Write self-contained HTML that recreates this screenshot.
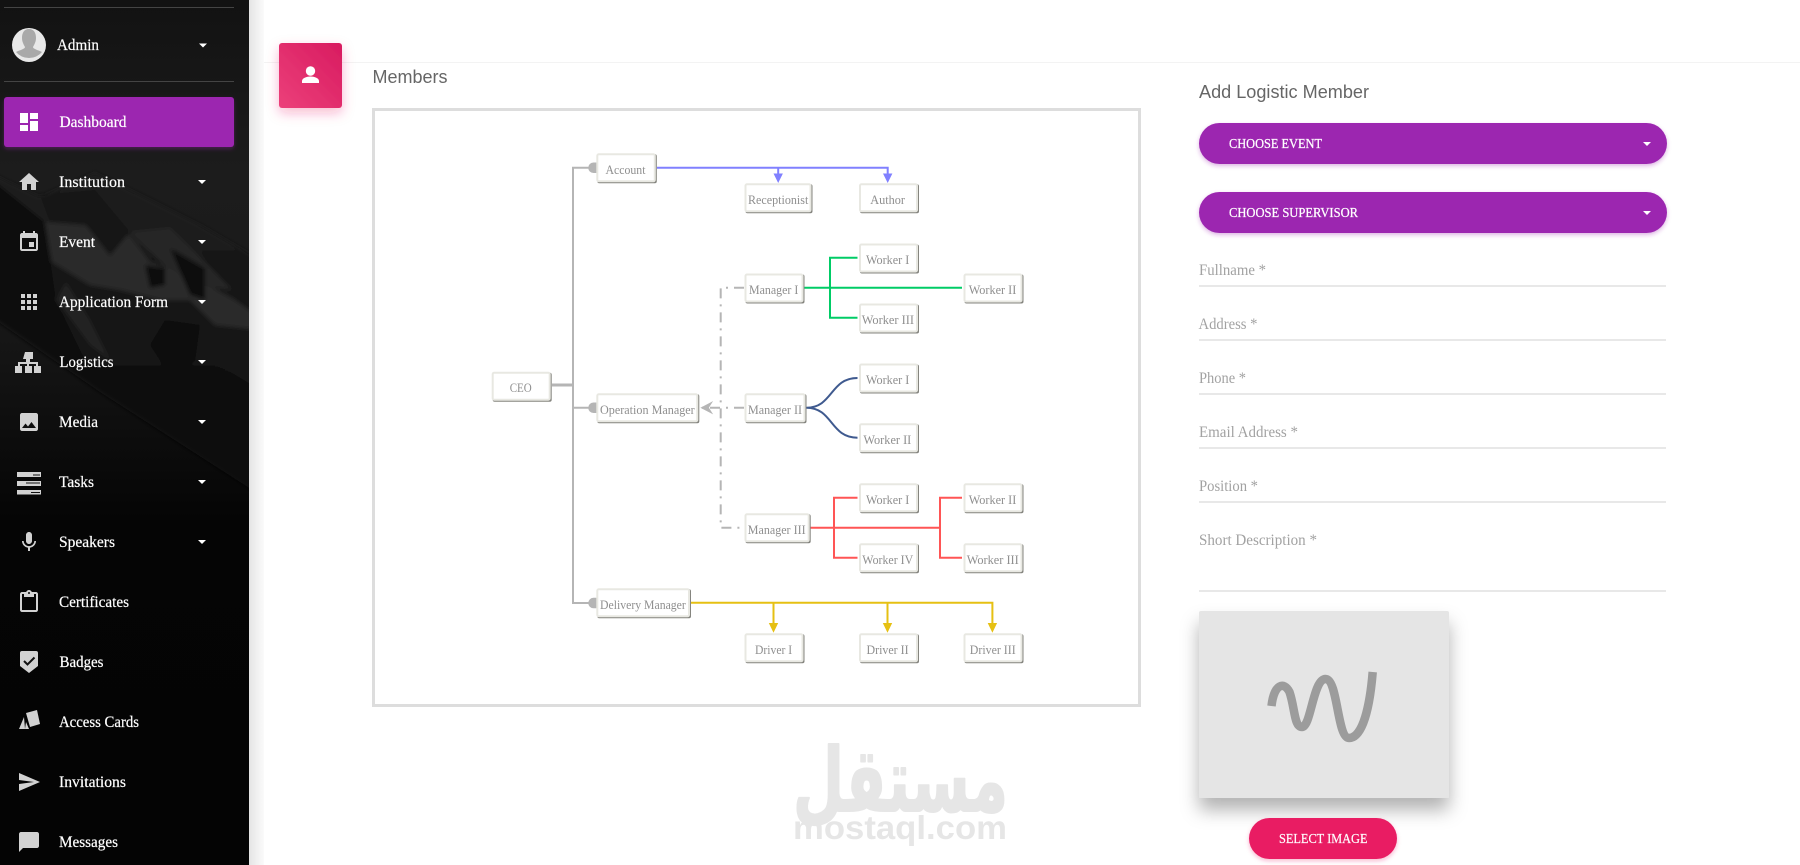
<!DOCTYPE html>
<html><head><meta charset="utf-8"><title>Members</title>
<style>
html,body{margin:0;padding:0;background:#fff;width:1800px;height:865px;overflow:hidden}
svg{display:block}
.s{font-family:"Liberation Serif",serif}
.m text{font-family:"Liberation Serif",serif;font-size:15.500px;fill:#fff;stroke:#fff;stroke-width:.2px}
.n text{font-family:"Liberation Serif",serif;font-size:12.500px;fill:#8f8f8f}
.f text{font-family:"Liberation Serif",serif;font-size:15.500px;fill:#a2a2a2}
.h{font-family:"Liberation Sans",sans-serif;font-size:18px;fill:#666}
.i path,.i rect{fill:#d2d2d2}
</style></head><body>
<svg width="1800" height="865" viewBox="0 0 1800 865" xmlns="http://www.w3.org/2000/svg">
<defs>
<linearGradient id="sb" x1="0" y1="0" x2="0" y2="1"><stop offset="0" stop-color="#121212"/><stop offset=".2" stop-color="#1c1c1c"/><stop offset=".34" stop-color="#1a1a1a"/><stop offset=".6" stop-color="#050505"/><stop offset="1" stop-color="#040404"/></linearGradient>
<linearGradient id="mt" x1="0" y1="0" x2="0" y2="1"><stop offset="0" stop-color="#1f1f1f"/><stop offset=".5" stop-color="#141414"/><stop offset="1" stop-color="#080808"/></linearGradient>
<linearGradient id="pk" x1="0" y1="1" x2="1" y2="0"><stop offset="0" stop-color="#ec407a"/><stop offset="1" stop-color="#d81b60"/></linearGradient>
<linearGradient id="sh" x1="0" y1="0" x2="1" y2="0"><stop offset="0" stop-color="#e4e4e4"/><stop offset="1" stop-color="#fbfbfb"/></linearGradient>
<clipPath id="sc"><rect x="0" y="0" width="249" height="865"/></clipPath>
<filter id="blur2" x="-10%" y="-10%" width="120%" height="120%"><feGaussianBlur stdDeviation="2.200"/></filter>
<filter id="s1" x="-30%" y="-30%" width="160%" height="170%"><feDropShadow dx="0" dy="12" stdDeviation="9" flood-color="#000" flood-opacity=".3"/></filter>
<filter id="s2" x="-10%" y="-30%" width="120%" height="180%"><feDropShadow dx="0" dy="2" stdDeviation="2" flood-color="#9c27b0" flood-opacity=".35"/></filter>
<filter id="s3" x="-40%" y="-40%" width="180%" height="190%"><feDropShadow dx="0" dy="5" stdDeviation="6" flood-color="#e91e63" flood-opacity=".3"/></filter>
<filter id="s4" x="-20%" y="-30%" width="140%" height="180%"><feDropShadow dx="0" dy="2" stdDeviation="2" flood-color="#e91e63" flood-opacity=".3"/></filter>
</defs>

<!-- main background -->
<rect x="249" y="0" width="1551" height="865" fill="#fff"/>
<rect x="249" y="0" width="15" height="865" fill="url(#sh)"/>
<rect x="264" y="0" width="1536" height="62" fill="#fff"/>
<rect x="249" y="0" width="15" height="62" fill="url(#sh)" opacity=".6"/>
<rect x="264" y="62" width="1536" height="1" fill="#f3f3f3"/>

<!-- sidebar -->
<rect x="0" y="0" width="249" height="865" fill="url(#sb)"/>
<g clip-path="url(#sc)"><g filter="url(#blur2)">
<polygon points="-10,173 40,197 95,173 140,195 200,225 260,260 260,495 100,392 -10,310" fill="url(#mt)"/>
<polygon points="-10,178 45,222 56,300 100,392 -10,316" fill="#0f0f0f"/>
<polygon points="45,222 90,226 130,236 150,262 190,275 235,300 260,318 260,330 215,325 190,300 160,300 120,290 90,285 52,262" fill="#2b2b2b"/>
<polygon points="130,232 170,228 205,262 232,290 200,285 165,266" fill="#282828"/>
<polygon points="66,282 90,320 110,360 90,345 70,318 56,300" fill="#222"/>
<polygon points="40,195 95,190 130,232 110,256 85,224 50,222" fill="#131313"/>
<polygon points="170,248 205,268 205,300 190,295" fill="#101010"/>
<polygon points="145,265 165,268 165,285 150,288" fill="#0e0e0e"/>
<polygon points="165,320 200,325 195,360 170,375 150,345" fill="#0e0e0e"/>
<polygon points="205,330 260,345 260,390 210,360" fill="#121212"/>
</g></g>
<rect x="4" y="7" width="230" height="1" fill="#444"/>
<rect x="4" y="81" width="230" height="1" fill="#444"/>

<!-- avatar -->
<circle cx="29" cy="45" r="17" fill="#e8e8e8"/>
<path d="M29 29c5 0 7 4 7 9 0 4-2 7-3 9 0 2 5 3 9 5a17 17 0 0 1-26 0c4-2 9-3 9-5-1-2-3-5-3-9 0-5 2-9 7-9z" fill="#a9a9a9"/>
<g class="m">
<text x="57" y="50" textLength="42" lengthAdjust="spacingAndGlyphs">Admin</text>
</g>

<!-- active -->
<rect x="4" y="97" width="230" height="50" rx="3" fill="#9c27b0" filter="url(#s2)"/>

<!-- icons -->
<g class="i">
<path transform="translate(17,110)" style="fill:#fff" d="M3 13h8V3H3v10zm0 8h8v-6H3v6zm10 0h8V11h-8v10zm0-18v6h8V3h-8z"/>
<path transform="translate(17,170)" d="M10 20v-6h4v6h5v-8h3L12 3 2 12h3v8z"/>
<path transform="translate(17,230)" d="M17 12h-5v5h5v-5zM16 1v2H8V1H6v2H5c-1.110 0-1.990.9-1.990 2L3 19c0 1.100.89 2 2 2h14c1.100 0 2-.9 2-2V5c0-1.100-.9-2-2-2h-1V1h-2zm3 18H5V8h14v11z"/>
<path transform="translate(17,290)" d="M4 8h4V4H4v4zm6 12h4v-4h-4v4zm-6 0h4v-4H4v4zm0-6h4v-4H4v4zm6 0h4v-4h-4v4zm6-10v4h4V4h-4zm-6 4h4V4h-4v4zm6 6h4v-4h-4v4zm0 6h4v-4h-4v4z"/>
<path d="M25 352h8v7h-3v3h8v4h3v7h-7v-7h2v-2h-7v2h3v7h-7v-7h2v-2h-7v2h2v7h-7v-7h3v-4h8v-3h-3z"/>
<path transform="translate(17,410)" d="M21 19V5c0-1.100-.9-2-2-2H5c-1.100 0-2 .9-2 2v14c0 1.100.9 2 2 2h14c1.100 0 2-.9 2-2zM8.500 13.500l2.500 3.010L14.500 12l4.500 6H5l3.500-4.500z"/>
<path d="M17 472h24v5h-24zM17 481h24v5h-24zM17 490h24v4.500h-24z"/>
<path d="M33 474.500h7v1h-7zM26 482.500h14v1h-14zM31 492h9v1h-9z" style="fill:#111"/>
<path transform="translate(17,530)" d="M12 14c1.660 0 2.990-1.340 2.990-3L15 5c0-1.660-1.340-3-3-3S9 3.340 9 5v6c0 1.660 1.340 3 3 3zm5.300-3c0 3-2.540 5.100-5.300 5.100S6.700 14 6.700 11H5c0 3.410 2.720 6.230 6 6.720V21h2v-3.280c3.280-.48 6-3.300 6-6.720h-1.700z"/>
<path transform="translate(17,590)" d="M19 2h-4.180C14.400.84 13.300 0 12 0c-1.300 0-2.400.84-2.820 2H5c-1.100 0-2 .9-2 2v16c0 1.100.9 2 2 2h14c1.100 0 2-.9 2-2V4c0-1.100-.9-2-2-2zm-7 0c.55 0 1 .45 1 1s-.45 1-1 1-1-.45-1-1 .45-1 1-1zm7 18H5V4h2v3h10V4h2v16z"/>
<path d="M22 651h14a2 2 0 0 1 2 2v13l-9 7-9-7v-13a2 2 0 0 1 2-2z"/>
<path d="M24 661l3.500 3.500 7-7" style="fill:none;stroke:#111;stroke-width:2"/>
<path d="M26 713l11-3 3 14-10 3z"/>
<path d="M24 717l-5 12 6 0zM26 722l-1 7 4 0z"/>
<path transform="translate(17,770)" d="M2.010 21L23 12 2.010 3 2 10l15 2-15 2z"/>
<path transform="translate(17,830)" d="M20 2H4c-1.100 0-1.990.9-1.990 2L2 22l4-4h14c1.100 0 2-.9 2-2V4c0-1.100-.9-2-2-2z"/>
</g>

<g class="m">
<text x="59.500" y="127" textLength="67" lengthAdjust="spacingAndGlyphs">Dashboard</text>
<text x="59" y="187" textLength="66" lengthAdjust="spacingAndGlyphs">Institution</text>
<text x="59" y="247" textLength="36" lengthAdjust="spacingAndGlyphs">Event</text>
<text x="59" y="307" textLength="109" lengthAdjust="spacingAndGlyphs">Application Form</text>
<text x="59.500" y="367" textLength="54" lengthAdjust="spacingAndGlyphs">Logistics</text>
<text x="59" y="427" textLength="39" lengthAdjust="spacingAndGlyphs">Media</text>
<text x="59" y="487" textLength="35" lengthAdjust="spacingAndGlyphs">Tasks</text>
<text x="59" y="547" textLength="56" lengthAdjust="spacingAndGlyphs">Speakers</text>
<text x="59" y="607" textLength="70" lengthAdjust="spacingAndGlyphs">Certificates</text>
<text x="59.500" y="667" textLength="44" lengthAdjust="spacingAndGlyphs">Badges</text>
<text x="59" y="727" textLength="80" lengthAdjust="spacingAndGlyphs">Access Cards</text>
<text x="59" y="787" textLength="67" lengthAdjust="spacingAndGlyphs">Invitations</text>
<text x="59" y="847" textLength="59" lengthAdjust="spacingAndGlyphs">Messages</text>
</g>
<g fill="#fff">
<polygon points="199,43.500 207,43.500 203,47.500"/>
<polygon points="198,180 206,180 202,184"/>
<polygon points="198,240 206,240 202,244"/>
<polygon points="198,300 206,300 202,304"/>
<polygon points="198,360 206,360 202,364"/>
<polygon points="198,420 206,420 202,424"/>
<polygon points="198,480 206,480 202,484"/>
<polygon points="198,540 206,540 202,544"/>
</g>

<!-- pink header box -->
<rect x="279" y="43" width="63" height="65" rx="3" fill="url(#pk)" filter="url(#s3)"/>
<circle cx="310.500" cy="71" r="4.700" fill="#fff"/>
<path d="M302 83v-2c0-3 5-4.500 8.500-4.500s8.500 1.500 8.500 4.500v2z" fill="#fff"/>

<text class="h" x="372.500" y="83" textLength="75" lengthAdjust="spacingAndGlyphs">Members</text>

<!-- diagram frame -->
<rect x="373.500" y="109.500" width="766" height="596" fill="#fff" stroke="#ddd" stroke-width="3"/>

<!-- gray connectors -->
<g fill="none" stroke="#b5b5b5" stroke-width="2">
<path d="M592 167.700H573V603H592M573 407.700H592"/>
<path d="M552 385H573" stroke-width="3"/>
</g>
<g fill="#b5b5b5">
<path d="M596.500 162.500v10.500h-3a5.250 5.250 0 0 1 0-10.500zM596.500 402.500v10.500h-3a5.250 5.250 0 0 1 0-10.500zM596.500 597.800v10.500h-3a5.250 5.250 0 0 1 0-10.500z"/>
</g>
<g fill="none" stroke="#b5b5b5" stroke-width="2" stroke-dasharray="10 6 2 6">
<path d="M744 287.700H720.700V527.700H744"/>
<path d="M744 407.700H702"/>
</g>
<path d="M711 403l-9 4.700 9 4.700-3-4.700z" fill="#b5b5b5" stroke="#b5b5b5" stroke-width="1.500"/>

<!-- blue -->
<path d="M657 167.700H887.700V175M778.200 167.700V175" fill="none" stroke="#8080ff" stroke-width="2"/>
<path d="M773.500 173.500h9.400l-4.700 9.500zM883 173.500h9.400l-4.700 9.500z" fill="#8080ff"/>
<!-- green -->
<path d="M804.500 287.700H962M857.500 257.700H830V317.700H857.500" fill="none" stroke="#00cc66" stroke-width="2"/>
<!-- navy -->
<path d="M806.500 407.700C833 407.700 830 378 857.500 378M806.500 407.700C833 407.700 830 437.700 857.500 437.700" fill="none" stroke="#3f5a8f" stroke-width="2"/>
<!-- red -->
<path d="M810.500 527.700H940M857.500 497.700H834V557.700H857.500M962 497.700H940V557.700H962" fill="none" stroke="#ff5555" stroke-width="2"/>
<!-- yellow -->
<path d="M691 602.800H992.400V626M773.500 602.800V626M887.500 602.800V626" fill="none" stroke="#e6c013" stroke-width="2"/>
<path d="M768.800 623h9.400l-4.700 9.700zM882.800 623h9.400l-4.700 9.700zM987.700 623h9.400l-4.700 9.700z" fill="#e6c013"/>

<!-- nodes -->
<g fill="#85857f">
<rect x="492.700" y="372.700" width="59" height="29" rx="2"/>
<rect x="597.300" y="154.300" width="59.500" height="29" rx="2"/>
<rect x="745.500" y="184.300" width="67" height="29" rx="2"/>
<rect x="860" y="184.300" width="59" height="29" rx="2"/>
<rect x="860" y="244.500" width="59" height="29" rx="2"/>
<rect x="745.500" y="274.500" width="59" height="29" rx="2"/>
<rect x="964.500" y="274.500" width="59" height="29" rx="2"/>
<rect x="860" y="304.500" width="59" height="29" rx="2"/>
<rect x="860" y="364.500" width="59" height="29" rx="2"/>
<rect x="597.300" y="394.300" width="102" height="29" rx="2"/>
<rect x="745.500" y="394.300" width="61" height="29" rx="2"/>
<rect x="860" y="424.300" width="59" height="29" rx="2"/>
<rect x="860" y="484.300" width="59" height="29" rx="2"/>
<rect x="964.500" y="484.300" width="59" height="29" rx="2"/>
<rect x="745.500" y="514.300" width="65.200" height="29" rx="2"/>
<rect x="860" y="544.300" width="59" height="29" rx="2"/>
<rect x="964.500" y="544.300" width="59" height="29" rx="2"/>
<rect x="597.300" y="589.300" width="93.700" height="29" rx="2"/>
<rect x="745.500" y="634.300" width="59" height="29" rx="2"/>
<rect x="860" y="634.300" width="59" height="29" rx="2"/>
<rect x="964.500" y="634.300" width="59" height="29" rx="2"/>
</g>
<g fill="#fff" stroke="#e8e8e2" stroke-width="2">
<rect x="492.700" y="372.700" width="57" height="27" rx="1.500"/>
<rect x="597.300" y="154.300" width="57.500" height="27" rx="1.500"/>
<rect x="745.500" y="184.300" width="65" height="27" rx="1.500"/>
<rect x="860" y="184.300" width="57" height="27" rx="1.500"/>
<rect x="860" y="244.500" width="57" height="27" rx="1.500"/>
<rect x="745.500" y="274.500" width="57" height="27" rx="1.500"/>
<rect x="964.500" y="274.500" width="57" height="27" rx="1.500"/>
<rect x="860" y="304.500" width="57" height="27" rx="1.500"/>
<rect x="860" y="364.500" width="57" height="27" rx="1.500"/>
<rect x="597.300" y="394.300" width="100" height="27" rx="1.500"/>
<rect x="745.500" y="394.300" width="59" height="27" rx="1.500"/>
<rect x="860" y="424.300" width="57" height="27" rx="1.500"/>
<rect x="860" y="484.300" width="57" height="27" rx="1.500"/>
<rect x="964.500" y="484.300" width="57" height="27" rx="1.500"/>
<rect x="745.500" y="514.300" width="63.200" height="27" rx="1.500"/>
<rect x="860" y="544.300" width="57" height="27" rx="1.500"/>
<rect x="964.500" y="544.300" width="57" height="27" rx="1.500"/>
<rect x="597.300" y="589.300" width="91.700" height="27" rx="1.500"/>
<rect x="745.500" y="634.300" width="57" height="27" rx="1.500"/>
<rect x="860" y="634.300" width="57" height="27" rx="1.500"/>
<rect x="964.500" y="634.300" width="57" height="27" rx="1.500"/>
</g>
<g class="n">
<text x="509.700" y="392" textLength="22" lengthAdjust="spacingAndGlyphs">CEO</text>
<text x="605.500" y="174" textLength="40" lengthAdjust="spacingAndGlyphs">Account</text>
<text x="748" y="204" textLength="60.300" lengthAdjust="spacingAndGlyphs">Receptionist</text>
<text x="870.300" y="204" textLength="34.700" lengthAdjust="spacingAndGlyphs">Author</text>
<text x="866" y="264" textLength="43.300" lengthAdjust="spacingAndGlyphs">Worker I</text>
<text x="749" y="294" textLength="49.300" lengthAdjust="spacingAndGlyphs">Manager I</text>
<text x="968.700" y="294" textLength="47.600" lengthAdjust="spacingAndGlyphs">Worker II</text>
<text x="861.700" y="324" textLength="52.300" lengthAdjust="spacingAndGlyphs">Worker III</text>
<text x="600" y="414" textLength="94.700" lengthAdjust="spacingAndGlyphs">Operation Manager</text>
<text x="748" y="414" textLength="54" lengthAdjust="spacingAndGlyphs">Manager II</text>
<text x="866" y="384" textLength="43.300" lengthAdjust="spacingAndGlyphs">Worker I</text>
<text x="863.400" y="444" textLength="47.900" lengthAdjust="spacingAndGlyphs">Worker II</text>
<text x="866" y="504" textLength="43.300" lengthAdjust="spacingAndGlyphs">Worker I</text>
<text x="968.700" y="504" textLength="47.600" lengthAdjust="spacingAndGlyphs">Worker II</text>
<text x="747.800" y="534" textLength="57.800" lengthAdjust="spacingAndGlyphs">Manager III</text>
<text x="862.300" y="564" textLength="50.900" lengthAdjust="spacingAndGlyphs">Worker IV</text>
<text x="966.700" y="564" textLength="52.100" lengthAdjust="spacingAndGlyphs">Worker III</text>
<text x="600" y="609" textLength="85.800" lengthAdjust="spacingAndGlyphs">Delivery Manager</text>
<text x="755" y="654" textLength="37.200" lengthAdjust="spacingAndGlyphs">Driver I</text>
<text x="866.500" y="654" textLength="42.100" lengthAdjust="spacingAndGlyphs">Driver II</text>
<text x="969.800" y="654" textLength="45.900" lengthAdjust="spacingAndGlyphs">Driver III</text>
</g>

<!-- form -->
<text class="h" x="1199" y="98" textLength="170" lengthAdjust="spacingAndGlyphs">Add Logistic Member</text>
<rect x="1199" y="123" width="468" height="41" rx="20.500" fill="#9c27b0" filter="url(#s2)"/>
<rect x="1199" y="192" width="468" height="41" rx="20.500" fill="#9c27b0" filter="url(#s2)"/>
<g class="s" font-size="13.500" fill="#fff" stroke="#fff" stroke-width=".25">
<text x="1229" y="148" textLength="93" lengthAdjust="spacingAndGlyphs">CHOOSE EVENT</text>
<text x="1229" y="217" textLength="129" lengthAdjust="spacingAndGlyphs">CHOOSE SUPERVISOR</text>
</g>
<polygon points="1643,142 1651,142 1647,146" fill="#fff"/>
<polygon points="1643,211 1651,211 1647,215" fill="#fff"/>
<g fill="#d2d2d2">
<rect x="1199" y="285.500" width="467" height="1"/>
<rect x="1199" y="339.500" width="467" height="1"/>
<rect x="1199" y="393.500" width="467" height="1"/>
<rect x="1199" y="447.500" width="467" height="1"/>
<rect x="1199" y="501.500" width="467" height="1"/>
<rect x="1199" y="590.500" width="467" height="1"/>
</g>
<g class="f">
<text x="1199" y="275" textLength="67" lengthAdjust="spacingAndGlyphs">Fullname *</text>
<text x="1198.500" y="329" textLength="59" lengthAdjust="spacingAndGlyphs">Address *</text>
<text x="1199" y="383" textLength="47" lengthAdjust="spacingAndGlyphs">Phone *</text>
<text x="1199" y="437" textLength="99" lengthAdjust="spacingAndGlyphs">Email Address *</text>
<text x="1199" y="491" textLength="59" lengthAdjust="spacingAndGlyphs">Position *</text>
<text x="1199" y="545" textLength="118" lengthAdjust="spacingAndGlyphs">Short Description *</text>
</g>

<!-- image placeholder -->
<rect x="1199" y="611" width="250" height="187" rx="2" fill="#e5e5e5" filter="url(#s1)"/>
<path d="M1271.500 706C1274 684 1284 681 1289.500 692C1295 708 1294 727 1302 727C1311 727 1313 679 1325.500 679C1338 679 1337 738 1349 738C1363 738 1370 705 1372.700 672" fill="none" stroke="#9c9c9c" stroke-width="8.500"/>

<rect x="1249" y="818" width="148" height="41" rx="20.500" fill="#e91e63" filter="url(#s4)"/>
<text class="s" x="1279" y="843" font-size="13.500" fill="#fff" stroke="#fff" stroke-width=".2" textLength="88.500" lengthAdjust="spacingAndGlyphs">SELECT IMAGE</text>

<!-- watermark -->
<text x="793" y="811" font-family="'DejaVu Sans',sans-serif" font-weight="bold" font-size="88" fill="#e6e6e6" stroke="#e6e6e6" stroke-width="2" stroke-linejoin="round" textLength="215" lengthAdjust="spacingAndGlyphs">مستقل</text>
<text x="793" y="839" font-family="'Liberation Sans',sans-serif" font-weight="bold" font-size="33" fill="#e6e6e6" textLength="214" lengthAdjust="spacingAndGlyphs">mostaql.com</text>
</svg>
</body></html>
